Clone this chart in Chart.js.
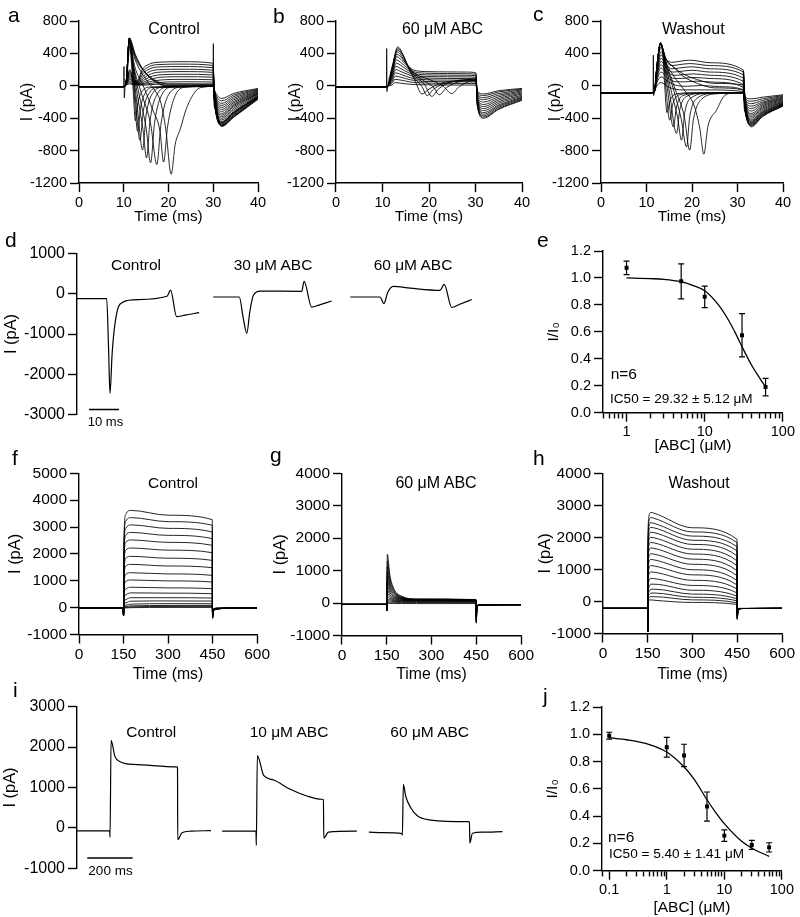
<!DOCTYPE html>
<html>
<head>
<meta charset="utf-8">
<script src="https://cdn.jsdelivr.net/npm/chart.js@4.4.1/dist/chart.umd.min.js"></script>
<style>
body { margin: 0; background: #fff; }
#fig { position: relative; width: 800px; height: 917px; overflow: hidden; font-family: "Liberation Sans", Arimo, Arial, Helvetica, sans-serif; color: #000; }
#fig canvas { position: absolute; }
.lbl { position: absolute; white-space: nowrap; line-height: 1; font-family: "Liberation Sans", Arimo, Arial, Helvetica, sans-serif; }
</style>
</head>
<body>
<div id="fig"></div>
<script>
// ---------- data (time in ms, current in pA) ----------

// a: control sweeps
const aTraces = [
  [[0,-10],[10,-10],[10.05,240],[10.12,-150],[10.3,0],[10.6,80],[11.2,540],[11.7,300],[12.1,-50],[12.6,-430],[13.2,-200],[14.2,-60],[16,-15],[29.95,-5],[30.02,520],[30.1,-150],[30.4,-280],[31.9,-500],[34.5,-390],[40,-165]],
  [[0,-10],[10,-10],[10.6,80],[11.25,580],[11.8,300],[12.4,-150],[13.1,-560],[13.8,-260],[15,-70],[17,-15],[30,-5],[30.4,-270],[31.9,-495],[34.5,-385],[40,-160]],
  [[0,-10],[10,-10],[10.6,80],[11.25,590],[11.9,280],[12.7,-220],[13.6,-670],[14.4,-300],[15.8,-80],[18,-15],[30,-5],[30.4,-265],[31.9,-490],[34.5,-380],[40,-155]],
  [[0,-10],[10,-10],[10.6,80],[11.25,590],[12,260],[13.1,-300],[14.2,-790],[15,-360],[16.6,-80],[19,-15],[30,-5],[30.4,-260],[31.9,-485],[34.5,-370],[40,-150]],
  [[0,-10],[10,-10],[10.6,80],[11.25,590],[12.1,240],[13.3,-200],[14.3,-540],[15.1,-890],[15.9,-420],[17.6,-90],[20,-15],[30,-5],[30.4,-255],[31.9,-480],[34.5,-360],[40,-145]],
  [[0,-10],[10,-10],[10.6,80],[11.25,590],[12.2,230],[13.6,-150],[15,-520],[16,-950],[16.9,-450],[18.6,-100],[21,-15],[30,-5],[30.4,-250],[31.9,-470],[34.5,-350],[40,-140]],
  [[0,-10],[10,-10],[10.6,80],[11.25,585],[12.3,220],[14,-100],[16,-470],[17.4,-970],[18.3,-480],[20,-110],[23,-15],[30,-5],[30.4,-245],[31.9,-460],[34.5,-340],[40,-135]],
  [[0,-10],[10,-10],[10.6,80],[11.25,580],[12.4,250],[14.5,-20],[16.5,-300],[18.1,-560],[18.9,-940],[19.8,-500],[21.5,-120],[24,-15],[30,-5],[30.4,-242],[31.9,-455],[34.5,-335],[40,-132]],
  [[0,-10],[10,-10],[10.6,80],[11.25,575],[12.5,330],[14,160],[15.5,40],[17,-60],[18.3,-210],[19.4,-540],[20.6,-1090],[21.5,-720],[22.6,-540],[24,-280],[26.3,-50],[28,-15],[30,-5],[30.4,-240],[31.9,-450],[34.5,-330],[40,-130]],
  [[0,-10],[10,-10],[10.6,70],[11.25,590],[12.6,385],[14.1,220],[16.3,80],[19.3,0],[25,-5],[30,-5],[30.4,-235],[31.9,-440],[34.5,-320],[40,-125]],
  [[0,-10],[10,-10],[10.6,60],[11.3,560],[12.7,360],[14.3,200],[16.5,75],[19.5,5],[30,0],[30.4,-225],[31.9,-420],[34.5,-300],[40,-115]],
  [[0,-10],[10,-10],[10.6,50],[11.4,500],[12.8,320],[14.5,180],[17,70],[20,20],[30,15],[30.4,-215],[31.9,-400],[34.5,-280],[40,-105]],
  [[0,-10],[10,-10],[10.6,40],[11.3,200],[12.2,90],[13,60],[14.1,200],[15.6,265],[17.4,290],[23,298],[29.9,280],[30.4,-180],[31.9,-380],[34.5,-260],[40,-100]],
  [[0,-10],[10,-10],[10.6,40],[11.3,180],[12.2,80],[13,50],[14.2,175],[15.7,238],[17.6,262],[23,268],[29.9,252],[30.4,-170],[31.9,-360],[34.5,-245],[40,-95]],
  [[0,-10],[10,-10],[10.6,35],[11.3,160],[12.2,70],[13.1,45],[14.3,150],[15.8,210],[17.8,233],[23,238],[29.9,224],[30.4,-160],[31.9,-340],[34.5,-230],[40,-88]],
  [[0,-10],[10,-10],[10.6,35],[11.3,140],[12.3,60],[13.2,40],[14.5,125],[16,180],[18,200],[23,205],[29.9,193],[30.4,-150],[31.9,-315],[34.5,-212],[40,-80]],
  [[0,-10],[10,-10],[10.6,30],[11.3,120],[12.3,50],[13.3,35],[14.6,100],[16.2,150],[18.3,170],[23,176],[29.9,166],[30.4,-140],[31.9,-290],[34.5,-195],[40,-72]],
  [[0,-10],[10,-10],[10.6,30],[11.3,100],[12.3,40],[13.4,30],[14.8,80],[16.4,120],[18.6,138],[23,143],[29.9,135],[30.4,-128],[31.9,-265],[34.5,-175],[40,-64]],
  [[0,-10],[10,-10],[10.6,25],[11.3,80],[12.4,35],[13.5,25],[15,60],[16.7,92],[19,109],[23,113],[29.9,107],[30.4,-115],[31.9,-240],[34.5,-155],[40,-56]],
  [[0,-10],[10,-10],[10.6,20],[11.3,60],[12.4,25],[13.6,20],[15.2,42],[17,64],[19.4,76],[23,80],[29.9,75],[30.4,-100],[31.9,-215],[34.5,-135],[40,-48]],
  [[0,-10],[10,-10],[10.6,15],[11.3,40],[12.5,15],[13.8,15],[15.5,27],[17.4,40],[19.8,48],[23,50],[29.9,47],[30.4,-85],[31.9,-185],[34.5,-115],[40,-40]],
  [[0,-10],[10,-10],[10.6,10],[11.3,25],[12.5,10],[14,8],[16,15],[18,22],[20.5,25],[29.9,24],[30.4,-70],[31.9,-155],[34.5,-95],[40,-32]]
];

// b: 60 uM ABC sweeps
const bTraces = [
  [[0,-12],[10.85,-12],[10.9,460],[10.95,-70],[11.1,-10],[12.1,240],[13.3,480],[14.3,400],[15.5,230],[17,60],[18.5,-100],[20,-40],[23,40],[27,60],[30.1,60],[30.4,-250],[31.7,-400],[35,-290],[40,-178]],
  [[0,-12],[10.9,-12],[11.2,0],[12.1,230],[13.3,460],[14.3,390],[15.5,240],[17,90],[18.5,-10],[19.6,-120],[21,-40],[24,40],[30.1,70],[30.4,-240],[31.7,-385],[35,-280],[40,-170]],
  [[0,-12],[10.9,-12],[11.2,0],[12.1,220],[13.2,440],[14.3,380],[15.5,250],[17,120],[19,20],[20.6,-130],[22,-40],[25,50],[30.1,80],[30.4,-230],[31.7,-370],[35,-265],[40,-160]],
  [[0,-12],[10.9,-12],[11.2,0],[12.1,210],[13.2,420],[14.2,360],[15.5,250],[17,140],[19,60],[21,-20],[22.2,-110],[23.8,-20],[27,60],[30.1,85],[30.4,-215],[31.7,-350],[35,-250],[40,-150]],
  [[0,-12],[10.9,-12],[11.2,0],[12.1,190],[13.1,390],[14.2,340],[15.5,240],[17,150],[20,80],[23,0],[24.9,-95],[26.5,-10],[30.1,70],[30.4,-200],[31.7,-330],[35,-235],[40,-140]],
  [[0,-12],[10.9,-12],[11.2,0],[12,170],[13.1,360],[14.2,310],[15.5,240],[17,190],[20,175],[24,172],[28,170],[30.1,160],[30.4,-185],[31.7,-305],[35,-215],[40,-128]],
  [[0,-12],[10.9,-12],[11.2,0],[12,150],[13,320],[14.1,280],[15.5,215],[17,170],[20,155],[24,152],[28,150],[30.1,142],[30.4,-170],[31.7,-280],[35,-195],[40,-115]],
  [[0,-12],[10.9,-12],[11.2,0],[12,130],[13,280],[14.1,245],[15.5,190],[17,150],[20,135],[24,132],[28,130],[30.1,124],[30.4,-155],[31.7,-255],[35,-175],[40,-100]],
  [[0,-12],[10.9,-12],[11.2,0],[12,110],[12.9,240],[14,210],[15.5,165],[17,130],[20,115],[24,112],[28,110],[30.1,105],[30.4,-140],[31.7,-230],[35,-155],[40,-88]],
  [[0,-12],[10.9,-12],[11.2,0],[12,90],[12.9,200],[14,175],[15.5,140],[17,110],[20,95],[28,90],[30.1,86],[30.4,-125],[31.7,-200],[35,-135],[40,-75]],
  [[0,-12],[10.9,-12],[11.2,0],[12,70],[12.8,160],[14,140],[16,100],[18,80],[22,72],[28,70],[30.1,67],[30.4,-110],[31.7,-170],[35,-115],[40,-62]],
  [[0,-12],[10.9,-12],[11.2,0],[12,50],[12.8,120],[14,105],[16,75],[19,55],[28,50],[30.1,48],[30.4,-95],[31.7,-145],[35,-95],[40,-50]],
  [[0,-12],[10.9,-12],[11.2,0],[12,30],[12.7,80],[14,70],[17,40],[28,30],[30.1,29],[30.4,-80],[31.7,-120],[35,-75],[40,-40]],
  [[0,-12],[10.9,-12],[11.2,-5],[12,10],[12.7,40],[14,32],[17,15],[28,10],[30.1,9],[30.4,-65],[31.7,-100],[35,-60],[40,-32]]
];

// c: washout sweeps
const cTraces = [
  [[0,-86],[11.45,-86],[11.5,380],[11.57,-120],[11.7,-80],[12.3,250],[13.1,520],[13.6,380],[14,0],[14.5,-330],[15.2,-180],[16.5,-100],[20,-86],[31.25,-86],[31.3,185],[31.4,-200],[31.7,-330],[33,-506],[35.5,-380],[40,-250]],
  [[0,-86],[11.5,-86],[11.8,-60],[12.3,250],[13.1,525],[13.7,350],[14.3,-50],[15.1,-424],[15.8,-220],[17.2,-110],[21,-88],[31.3,-86],[31.7,-320],[33,-495],[35.5,-372],[40,-245]],
  [[0,-86],[11.5,-86],[11.8,-60],[12.3,250],[13.1,530],[13.8,340],[14.7,-80],[15.9,-506],[16.6,-260],[18,-120],[22,-90],[31.3,-86],[31.7,-315],[33,-485],[35.5,-365],[40,-240]],
  [[0,-86],[11.5,-86],[11.8,-60],[12.3,250],[13.1,530],[13.9,330],[15.1,-100],[16.6,-588],[17.3,-300],[18.8,-130],[23,-90],[31.3,-86],[31.7,-310],[33,-475],[35.5,-358],[40,-235]],
  [[0,-86],[11.5,-86],[11.8,-60],[12.3,250],[13.1,530],[14,320],[15.5,-80],[16.8,-380],[17.7,-671],[18.4,-330],[20,-140],[24,-90],[31.3,-86],[31.7,-300],[33,-465],[35.5,-350],[40,-230]],
  [[0,-86],[11.5,-86],[11.8,-60],[12.3,250],[13.1,530],[14.1,310],[16,-60],[17.6,-400],[18.8,-753],[19.5,-380],[21.2,-150],[25,-92],[31.3,-86],[31.7,-290],[33,-455],[35.5,-340],[40,-225]],
  [[0,-86],[11.5,-86],[11.8,-60],[12.3,245],[13.1,525],[14.2,300],[16.3,-40],[18.3,-380],[19.5,-794],[20.3,-420],[22.2,-160],[26,-95],[31.3,-86],[31.7,-280],[33,-445],[35.5,-330],[40,-220]],
  [[0,-86],[11.5,-86],[11.8,-60],[12.3,240],[13.1,520],[14.3,290],[16,120],[18,-30],[20.5,-250],[21.7,-520],[22.6,-843],[23.5,-500],[25.4,-300],[27,-130],[29,-90],[31.3,-86],[31.7,-270],[33,-435],[35.5,-320],[40,-215]],
  [[0,-86],[11.5,-86],[11.8,-60],[12.3,240],[13.1,515],[14.3,330],[15.9,235],[18,120],[21.2,30],[25,-25],[31.3,-50],[31.7,-260],[33,-420],[35.5,-305],[40,-205]],
  [[0,-86],[11.5,-86],[11.8,-60],[12.3,220],[13.2,480],[14.4,320],[16,230],[18,150],[21,80],[25,30],[31.3,10],[31.7,-240],[33,-400],[35.5,-290],[40,-200]],
  [[0,-86],[11.5,-86],[11.8,-60],[12.3,200],[13.2,420],[14.3,330],[15.5,290],[17,300],[19.5,317],[24,285],[31.3,194],[31.7,-220],[33,-380],[35.5,-275],[40,-190]],
  [[0,-86],[11.5,-86],[11.8,-60],[12.3,180],[13.2,380],[14.3,300],[15.5,250],[17,260],[19.5,275],[24,250],[31.3,170],[31.7,-210],[33,-360],[35.5,-260],[40,-180]],
  [[0,-86],[11.5,-86],[11.8,-60],[12.3,160],[13.2,340],[14.3,260],[15.6,210],[17.2,220],[19.8,235],[24,210],[31.3,135],[31.7,-200],[33,-340],[35.5,-245],[40,-170]],
  [[0,-86],[11.5,-86],[11.8,-60],[12.3,140],[13.2,300],[14.4,220],[15.8,170],[17.4,178],[20,192],[24,170],[31.3,95],[31.7,-190],[33,-310],[35.5,-230],[40,-160]],
  [[0,-86],[11.5,-86],[11.8,-60],[12.3,120],[13.2,260],[14.4,180],[16,130],[17.6,135],[20.3,148],[24,130],[31.3,55],[31.7,-180],[33,-280],[35.5,-215],[40,-150]],
  [[0,-86],[11.5,-86],[11.8,-60],[12.3,100],[13.2,220],[14.5,140],[16.2,90],[18,92],[20.6,104],[24,90],[31.3,15],[31.7,-170],[33,-250],[35.5,-200],[40,-140]],
  [[0,-86],[11.5,-86],[11.8,-60],[12.3,70],[13.2,170],[14.6,100],[16.5,50],[18.5,50],[21,58],[25,45],[31.3,-20],[31.7,-160],[33,-220],[35.5,-180],[40,-130]],
  [[0,-86],[11.5,-86],[11.8,-60],[12.3,40],[13.2,110],[14.8,50],[17,0],[19,-5],[22,5],[26,-10],[31.3,-50],[31.7,-150],[33,-190],[35.5,-160],[40,-120]],
  [[0,-86],[11.5,-86],[11.8,-60],[12.3,0],[13.2,40],[15,-20],[18,-50],[23,-50],[31.3,-70],[31.7,-140],[33,-160],[35.5,-140],[40,-110]]
];

// d: single sweeps, each with its own time base; offsets place them side by side
const dControl = [[0,-120],[9.9,-120],[10.5,-1300],[11,-2480],[11.7,-1500],[12.67,-736],[14.3,-260],[18.8,-150],[30,-60],[31.2,90],[33.2,-570],[36,-530],[40.7,-470]];
const d30uM = [[1.2,-79],[9.9,-79],[11.2,-600],[12.4,-983],[13.4,-450],[14.6,-37],[16.8,69],[30.7,60],[31.5,310],[34,-330],[36.5,-280],[40.7,-180]];
const d60uM = [[0,-79],[9.9,-79],[11.2,-242],[12.5,40],[14.3,185],[20,140],[29.9,86],[31.3,235],[33.8,-341],[36.5,-260],[40.5,-143]];
const dOffsets = [0, 44.2, 91.1];
const dScaleBar = [[4,-2877],[14,-2877]]; // 10 ms

// e: concentration-response, n = 6
const eConc = [1, 5, 10, 30, 60];
const eMean = [1.075, 0.975, 0.86, 0.575, 0.19];
const eSem = [0.05, 0.13, 0.08, 0.16, 0.065];
const eFitX = [1, 2, 3, 5, 7, 10, 15, 20, 25, 30, 40, 50, 60];
const eFitY = [1.0, 0.995, 0.99, 0.972, 0.945, 0.905, 0.8, 0.69, 0.585, 0.49, 0.35, 0.26, 0.19];
const eTicks = [0.5,0.6,0.7,0.8,0.9,1,2,3,4,5,6,7,8,9,10,20,30,40,50,60,70,80,90,100];

// f, g, h: sweep families sampled at shared times
const fT = [0,149,150,152,158,175,300,449,450,453,465,500,600];
const fTraces = [
  [-20,-20,-300,2800,3480,3620,3440,3275,-400,-130,-50,-25,-20],
  [-20,-20,-300,2600,3220,3350,3200,3066,-390,-125,-50,-25,-20],
  [-20,-20,-300,2400,2960,3080,2950,2817,-380,-120,-48,-25,-20],
  [-20,-20,-300,2200,2700,2800,2690,2569,-370,-115,-46,-24,-20],
  [-20,-20,-300,1950,2430,2520,2430,2320,-360,-110,-44,-24,-20],
  [-20,-20,-300,1700,2140,2220,2140,2047,-350,-105,-42,-23,-20],
  [-20,-20,-300,1450,1840,1910,1840,1761,-340,-100,-40,-23,-20],
  [-20,-20,-300,1200,1550,1610,1550,1488,-330,-95,-38,-22,-20],
  [-20,-20,-300,950,1240,1300,1255,1202,-320,-90,-36,-22,-20],
  [-20,-20,-300,720,980,1030,995,954,-310,-85,-34,-21,-20],
  [-20,-20,-300,500,700,760,735,705,-300,-80,-32,-21,-20],
  [-20,-20,-300,320,480,550,540,519,-290,-75,-30,-20,-20],
  [-20,-20,-300,180,300,370,370,357,-280,-70,-28,-20,-20],
  [-20,-20,-300,90,180,240,250,245,-270,-65,-26,-20,-20],
  [-20,-20,-300,40,90,130,148,146,-260,-60,-25,-20,-20],
  [-20,-20,-300,10,40,65,82,84,-250,-55,-24,-20,-20],
  [-20,-20,-300,-5,10,30,44,46,-240,-50,-23,-20,-20],
  [-20,-20,-300,-15,-10,0,8,9,-230,-45,-22,-20,-20]
];

const gT = [0,149,150,151,152,160,175,200,250,449,450,452,460,600];
const gTraces = [
  [-40,-40,-240,900,1500,880,420,210,125,110,-620,-150,-60,-50],
  [-40,-40,-240,800,1300,780,380,195,120,105,-600,-145,-60,-50],
  [-40,-40,-240,700,1120,680,340,180,115,100,-580,-140,-58,-50],
  [-40,-40,-240,600,950,580,300,165,110,98,-560,-135,-58,-50],
  [-40,-40,-240,500,800,490,260,150,105,95,-540,-130,-56,-50],
  [-40,-40,-240,420,660,410,220,140,100,92,-520,-125,-56,-50],
  [-40,-40,-240,340,520,330,190,125,95,88,-500,-120,-55,-50],
  [-40,-40,-240,260,400,260,160,110,88,82,-480,-115,-55,-50],
  [-40,-40,-240,190,290,200,130,95,80,75,-460,-110,-54,-50],
  [-40,-40,-240,130,200,150,100,80,70,65,-440,-105,-54,-50],
  [-40,-40,-240,80,130,105,75,62,58,55,-420,-100,-53,-50],
  [-40,-40,-240,40,75,65,50,45,42,40,-400,-95,-53,-50],
  [-40,-40,-240,10,30,28,22,20,18,18,-380,-90,-52,-50],
  [-40,-40,-240,-20,-10,-10,-12,-14,-15,-15,-360,-85,-52,-50]
];

const hT = [0,149,150,151,153,160,170,300,449,450,452,465,600];
const hTraces = [
  [-215,-215,-950,1800,2600,2780,2760,2300,1940,-560,-300,-220,-215],
  [-215,-215,-950,1700,2450,2620,2600,2170,1838,-550,-295,-220,-215],
  [-215,-215,-950,1600,2300,2460,2440,2040,1710,-540,-290,-220,-215],
  [-215,-215,-950,1500,2150,2310,2300,1910,1578,-530,-285,-220,-215],
  [-215,-215,-950,1400,2000,2160,2150,1780,1423,-520,-280,-220,-215],
  [-215,-215,-950,1300,1850,2000,1990,1630,1268,-510,-275,-220,-215],
  [-215,-215,-950,1200,1700,1840,1830,1480,1114,-500,-270,-220,-215],
  [-215,-215,-950,1050,1530,1670,1660,1320,959,-490,-265,-220,-215],
  [-215,-215,-950,900,1360,1490,1480,1160,804,-480,-260,-220,-215],
  [-215,-215,-950,760,1180,1310,1300,990,650,-470,-255,-220,-215],
  [-215,-215,-950,620,990,1120,1110,830,516,-460,-250,-220,-215],
  [-215,-215,-950,480,800,920,915,660,392,-450,-245,-220,-215],
  [-215,-215,-950,350,610,720,715,500,268,-440,-240,-220,-215],
  [-215,-215,-950,250,430,540,540,350,165,-430,-235,-220,-215],
  [-215,-215,-950,300,300,380,385,230,83,-420,-230,-220,-215],
  [-215,-215,-950,350,200,260,265,130,21,-410,-225,-220,-215],
  [-215,-215,-950,400,120,150,150,50,-40,-400,-220,-218,-215],
  [-215,-215,-950,400,40,50,40,-30,-92,-390,-215,-215,-215]
];

// i: single sweeps with their own time base
const iControl = [[0,-70],[144,-70],[145.5,-230],[150,2165],[167,1770],[190,1635],[248,1570],[440,1510],[442.5,1490],[443.5,-290],[462,-120],[500,-80],[590,-65]];
const i10uM = [[-5,-80],[144,-80],[145.5,-430],[150,1790],[177.8,1300],[222,1185],[295,955],[368,790],[434,710],[441,700],[442.5,-250],[463,-105],[588,-80]];
const i60uM = [[-2,-105],[60,-115],[144,-140],[145.5,-180],[150,1080],[160,790],[182,505],[211.5,300],[270,195],[432,155],[441,150],[442.5,-375],[454,-130],[500,-105],[586,-90]];
const iOffsets = [0, 644, 1287];
const iScaleBar = [[45,-743],[245,-743]]; // 200 ms

// j: concentration-response, n = 6
const jConc = [0.1, 1, 2, 5, 10, 30, 60];
const jMean = [0.99, 0.905, 0.845, 0.47, 0.257, 0.189, 0.171];
const jSem = [0.025, 0.073, 0.082, 0.107, 0.042, 0.033, 0.034];
const jFitX = [0.1, 0.2, 0.5, 1, 2, 3, 5, 7, 10, 20, 30, 60];
const jFitY = [0.975, 0.96, 0.925, 0.87, 0.76, 0.67, 0.52, 0.43, 0.345, 0.215, 0.165, 0.105];
const jTicks = [0.075,0.1,0.2,0.3,0.4,0.5,0.6,0.7,0.8,0.9,1,2,3,4,5,6,7,8,9,10,20,30,40,50,60,70,80,90,100];

// ---------- drawing ----------
const FONT = '"Liberation Sans", Arimo, Arial, Helvetica, sans-serif';
const INK = '#000';
const fig = document.getElementById('fig');
Chart.defaults.font.family = FONT;
Chart.defaults.color = INK;

const errorBars = {
  id: 'errorBars',
  afterDatasetsDraw(chart) {
    const ctx = chart.ctx, xs = chart.scales.x, ys = chart.scales.y;
    chart.data.datasets.forEach(ds => {
      if (!ds.errors) return;
      ctx.save();
      ctx.strokeStyle = INK;
      ctx.lineWidth = 1.2;
      ds.data.forEach((p, i) => {
        const px = xs.getPixelForValue(p.x);
        const top = ys.getPixelForValue(p.y + ds.errors[i]);
        const bot = ys.getPixelForValue(p.y - ds.errors[i]);
        ctx.beginPath();
        ctx.moveTo(px, top); ctx.lineTo(px, bot);
        ctx.moveTo(px - 3, top); ctx.lineTo(px + 3, top);
        ctx.moveTo(px - 3, bot); ctx.lineTo(px + 3, bot);
        ctx.stroke();
      });
      ctx.restore();
    });
  }
};

function pairs(list, shift) {
  return list.map(([x, y]) => ({x: x + (shift || 0), y: y}));
}
function sampled(times, values) {
  return values.map((y, i) => ({x: times[i], y: y}));
}
function trace(data, width) {
  return {data: data, borderColor: INK, borderWidth: width, pointRadius: 0,
          cubicInterpolationMode: 'monotone', fill: false};
}

function axis(size, extra) {
  return Object.assign({
    border: {display: true, color: INK, width: 1.4},
    grid: {display: true, drawOnChartArea: false, drawTicks: true, tickLength: 9, tickColor: INK, tickWidth: 1.4},
  }, extra, {
    ticks: Object.assign({color: INK, font: {family: FONT, size: size}, padding: 3,
                          autoSkip: false, maxRotation: 0}, extra.ticks || {})
  });
}

function panel(o) {
  const padT = 12, padR = 14, padB = o.x.show ? 2 : 12;
  const yw = o.area.l - o.y.titleAt + o.y.titleSize * 0.6;
  const left = Math.floor(o.area.l - yw - 2);
  const padL = o.area.l - yw - left;
  const xh = o.x.show ? o.x.titleAt + o.x.titleSize * 0.6 - o.area.b : 0;
  const top = o.area.t - padT;
  const w = Math.ceil(o.area.r + padR - left);
  const h = Math.ceil(o.area.b + xh + padB - top);
  const cv = document.createElement('canvas');
  cv.width = w; cv.height = h;
  cv.style.left = left + 'px'; cv.style.top = top + 'px';
  cv.style.width = w + 'px'; cv.style.height = h + 'px';
  fig.appendChild(cv);

  const xExtra = {
    type: o.x.type || 'linear', min: o.x.min, max: o.x.max, display: o.x.show,
    ticks: {stepSize: o.x.step, padding: 2, callback: o.x.label || (v => String(v))},
    title: {display: !!o.x.title, text: o.x.title, color: INK, padding: 0,
            font: {family: FONT, size: o.x.titleSize}},
    afterFit: s => { s.height = xh; }
  };
  if (o.x.tickValues) {
    xExtra.afterBuildTicks = s => { s.ticks = o.x.tickValues.map(v => ({value: v})); };
    xExtra.grid = {display: true, drawOnChartArea: false, drawTicks: true, tickLength: 9,
                   tickColor: INK, tickWidth: 1.4,
                   tickBorderDash: c => (c.tick && o.x.major.includes(c.tick.value)) ? [] : [5, 40]};
  }
  const yExtra = {
    type: 'linear', min: o.y.min, max: o.y.max,
    ticks: {stepSize: o.y.step, callback: o.y.label || (v => String(v))},
    title: {display: true, text: o.y.title, color: INK, padding: 0,
            font: {family: FONT, size: o.y.titleSize}},
    afterFit: s => { s.width = yw; }
  };

  new Chart(cv, {
    type: 'line',
    data: {datasets: o.datasets},
    options: {
      responsive: false, animation: false, events: [],
      layout: {padding: {left: padL, top: padT, right: padR, bottom: padB}},
      plugins: {legend: {display: false}, tooltip: {enabled: false}},
      scales: {x: axis(o.x.size, xExtra), y: axis(o.y.size, yExtra)}
    },
    plugins: [errorBars]
  });
}

function label(text, x, y, size, align) {
  const d = document.createElement('div');
  d.className = 'lbl';
  d.textContent = text;
  d.style.fontFamily = FONT;
  d.style.fontSize = size + 'px';
  d.style.left = x + 'px';
  d.style.top = y + 'px';
  d.style.transform = align === 'left' ? 'translate(0,-50%)' : 'translate(-50%,-50%)';
  fig.appendChild(d);
}

const famWidth = 0.85;
const xTime40 = {min: 0, max: 40, step: 10, show: true, title: 'Time (ms)', titleAt: 216.7, size: 14.5, titleSize: 15.3};
const yPa1200 = {min: -1200, max: 800, step: 400, title: 'I (pA)', size: 14.5, titleSize: 15.7};

// a, b, c
panel({area: {l: 79, t: 21, r: 258, b: 183}, x: xTime40, y: Object.assign({titleAt: 28}, yPa1200),
       datasets: aTraces.map(t => trace(pairs(t), famWidth))});
panel({area: {l: 336, t: 21, r: 522, b: 183}, x: xTime40, y: Object.assign({titleAt: 296}, yPa1200),
       datasets: bTraces.map(t => trace(pairs(t), famWidth))});
panel({area: {l: 601, t: 21, r: 783, b: 183}, x: xTime40, y: Object.assign({titleAt: 556}, yPa1200),
       datasets: cTraces.map(t => trace(pairs(t), famWidth))});

// d
panel({area: {l: 77, t: 253, r: 482, b: 415},
       x: {min: 0, max: 135, show: false, size: 14, titleSize: 15},
       y: {min: -3000, max: 1000, step: 1000, title: 'I (pA)', titleAt: 11, size: 16, titleSize: 16.4},
       datasets: [dControl, d30uM, d60uM].map((t, k) => trace(pairs(t, dOffsets[k]), 1.2))
         .concat([{data: pairs(dScaleBar), borderColor: INK, borderWidth: 1.6, pointRadius: 0}])});

// e
const logLabel = major => (v => major.includes(v) ? String(v) : '');
panel({area: {l: 603, t: 251, r: 783, b: 412},
       x: {type: 'logarithmic', min: 0.5, max: 100, show: true, tickValues: eTicks, major: [1, 10, 100],
           label: logLabel([1, 10, 100]), title: '[ABC] (\u03bcM)', titleAt: 445, size: 14.5, titleSize: 15.5},
       y: {min: 0, max: 1.2, step: 0.2, title: 'I/I\u2080', titleAt: 554, size: 14.5, titleSize: 15.5,
           label: v => v.toFixed(1)},
       datasets: [
         {data: sampled(eFitX, eFitY), borderColor: INK, borderWidth: 1.3, pointRadius: 0, cubicInterpolationMode: 'monotone'},
         {data: sampled(eConc, eMean), showLine: false, pointStyle: 'rect', pointRadius: 2.8,
          backgroundColor: INK, borderColor: INK, borderWidth: 0, errors: eSem}
       ]});

// f, g, h
const xTime600 = {min: 0, max: 600, step: 150, show: true, title: 'Time (ms)', titleAt: 674, size: 15.5, titleSize: 15.8};
panel({area: {l: 79, t: 473, r: 258, b: 634}, x: xTime600,
       y: {min: -1000, max: 5000, step: 1000, title: 'I (pA)', titleAt: 15, size: 15.5, titleSize: 16.4},
       datasets: fTraces.map(v => trace(sampled(fT, v), famWidth))});
panel({area: {l: 342, t: 473, r: 522, b: 635}, x: xTime600,
       y: {min: -1000, max: 4000, step: 1000, title: 'I (pA)', titleAt: 280, size: 15.5, titleSize: 16.4},
       datasets: gTraces.map(v => trace(sampled(gT, v), famWidth))});
panel({area: {l: 603, t: 473, r: 783, b: 633}, x: xTime600,
       y: {min: -1000, max: 4000, step: 1000, title: 'I (pA)', titleAt: 545, size: 15.5, titleSize: 16.4},
       datasets: hTraces.map(v => trace(sampled(hT, v), famWidth))});

// i
panel({area: {l: 77, t: 706, r: 503.2, b: 869},
       x: {min: 0, max: 1880, show: false, size: 14, titleSize: 15},
       y: {min: -1000, max: 3000, step: 1000, title: 'I (pA)', titleAt: 10, size: 16, titleSize: 16.4},
       datasets: [iControl, i10uM, i60uM].map((t, k) => trace(pairs(t, iOffsets[k]), 1.2))
         .concat([{data: pairs(iScaleBar), borderColor: INK, borderWidth: 1.6, pointRadius: 0}])});

// j
panel({area: {l: 602, t: 707, r: 782, b: 870},
       x: {type: 'logarithmic', min: 0.075, max: 100, show: true, tickValues: jTicks, major: [0.1, 1, 10, 100],
           label: logLabel([0.1, 1, 10, 100]), title: '[ABC] (\u03bcM)', titleAt: 907, size: 14.5, titleSize: 15.5},
       y: {min: 0, max: 1.2, step: 0.2, title: 'I/I\u2080', titleAt: 553, size: 14.5, titleSize: 15.5,
           label: v => v.toFixed(1)},
       datasets: [
         {data: sampled(jFitX, jFitY), borderColor: INK, borderWidth: 1.3, pointRadius: 0, cubicInterpolationMode: 'monotone'},
         {data: sampled(jConc, jMean), showLine: false, pointStyle: 'rect', pointRadius: 2.8,
          backgroundColor: INK, borderColor: INK, borderWidth: 0, errors: jSem}
       ]});

// panel letters
[['a', 8, 14.4], ['b', 273, 15.4], ['c', 533, 13.4], ['d', 5, 239.4], ['e', 537, 239.4],
 ['f', 12, 457.4], ['g', 270, 454.4], ['h', 533, 457.4], ['i', 13, 689.4], ['j', 543, 695.4]]
  .forEach(([t, x, y]) => label(t, x, y, 21, 'left'));

// condition and annotation text
label('Control', 174, 29, 16);
label('60 \u03bcM ABC', 442.5, 28.5, 16);
label('Washout', 693.3, 29, 16);
label('Control', 136, 265, 15.5);
label('30 \u03bcM ABC', 273, 265, 15.5);
label('60 \u03bcM ABC', 413, 265, 15.5);
label('10 ms', 105.5, 421, 13);
label('n=6', 610.7, 374, 15.5, 'left');
label('IC50 = 29.32 \u00b1 5.12 \u03bcM', 610, 399, 13.6, 'left');
label('Control', 173, 483, 15.5);
label('60 \u03bcM ABC', 436, 483, 16);
label('Washout', 699, 483, 15.6);
label('Control', 151.3, 731.7, 15.5);
label('10 \u03bcM ABC', 289, 731.7, 15.5);
label('60 \u03bcM ABC', 429.7, 731.7, 15.5);
label('200 ms', 110.5, 871, 13.5);
label('n=6', 608, 837, 15.5, 'left');
label('IC50 = 5.40 \u00b1 1.41 \u03bcM', 609, 854, 13.6, 'left');
</script>
</body>
</html>
